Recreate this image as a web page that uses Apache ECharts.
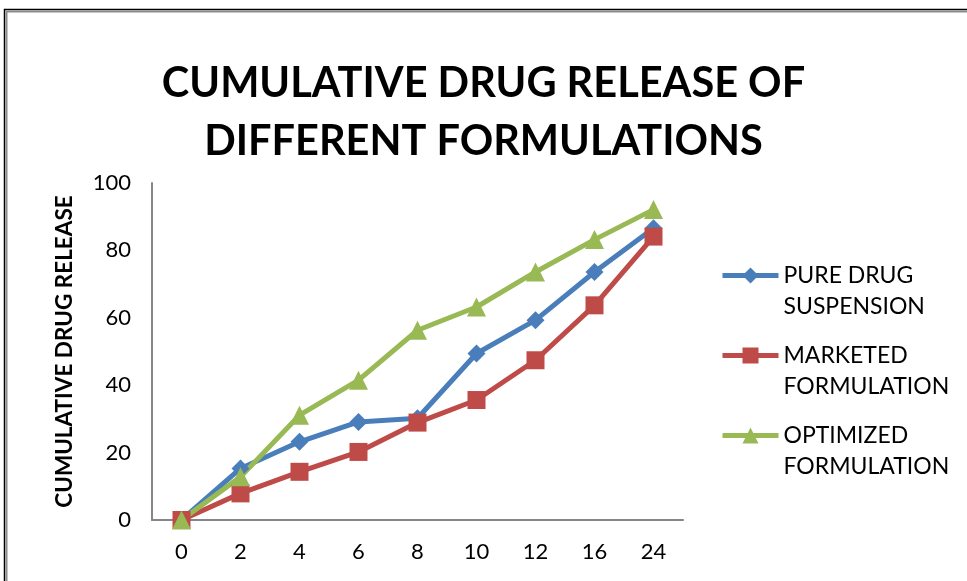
<!DOCTYPE html>
<html><head><meta charset="utf-8">
<script src="https://cdn.jsdelivr.net/npm/echarts@6/dist/echarts.min.js"></script>
<style>html,body{margin:0;padding:0;background:#fff}#c{width:967px;height:581px}</style>
</head><body><div id="c"></div>
<script>
var categories = ['0','2','4','6','8','10','12','16','24'];
var pureDrug = [0, 15.3, 23.2, 29.1, 30.2, 49.4, 59.3, 73.6, 86.6];
var marketed = [0, 7.9, 14.3, 20.2, 28.9, 35.6, 47.4, 63.7, 84.1];
var optimized = [0, 12.8, 31.1, 41.5, 56.3, 63.2, 73.6, 83.2, 92.1];
var seriesNames = ['PURE DRUG SUSPENSION', 'MARKETED FORMULATION', 'OPTIMIZED FORMULATION'];
var legendLabels = ['PURE DRUG\nSUSPENSION', 'MARKETED\nFORMULATION', 'OPTIMIZED\nFORMULATION'];
var titleText = 'CUMULATIVE DRUG RELEASE OF\nDIFFERENT FORMULATIONS';
var yAxisName = 'CUMULATIVE DRUG RELEASE';

var font = 'Lato';
var chart = echarts.init(document.getElementById('c'), null, {renderer: 'canvas'});
function ser(name, data, color, symbol, size) {
  return {
    name: name, type: 'line', data: data, symbol: symbol, symbolSize: size,
    lineStyle: {color: color, width: 5}, itemStyle: {color: color},
    emphasis: {disabled: true}, animation: false
  };
}
chart.setOption({
  animation: false,
  textStyle: {fontFamily: font},
  title: {
    text: titleText, left: 'center', top: 50,
    textStyle: {fontFamily: font, fontWeight: 'bold', fontSize: 41.5, lineHeight: 58, color: '#000'}
  },
  graphic: [
    {type: 'rect', shape: {x: 4.5, y: 9.5, width: 1000, height: 600}, style: {fill: 'none', stroke: '#000', lineWidth: 1.5}, silent: true},
    {type: 'rect', shape: {x: 6.5, y: 11.5, width: 1000, height: 600}, style: {fill: 'none', stroke: '#8c8c8c', lineWidth: 2}, silent: true}
  ],
  legend: {
    orient: 'vertical', left: 715, top: 224, itemWidth: 56, itemHeight: 20, itemGap: -13,
    data: seriesNames,
    formatter: function (n) { return '\n' + legendLabels[seriesNames.indexOf(n)]; },
    textStyle: {fontFamily: font, fontSize: 23, lineHeight: 31, color: '#000'},
    lineStyle: {width: 5},
    selectedMode: false
  },
  grid: {left: 152, right: 284, top: 183, bottom: 61},
  xAxis: {
    type: 'category', data: categories, boundaryGap: true,
    axisLine: {lineStyle: {color: '#868686', width: 2}},
    axisTick: {show: false},
    axisLabel: {color: '#000', fontSize: 22, margin: 21, fontFamily: font}
  },
  yAxis: {
    type: 'value', min: 0, max: 100, interval: 20,
    name: yAxisName, nameLocation: 'middle', nameGap: 76, nameRotate: 90,
    nameTextStyle: {fontFamily: font, fontWeight: 'bold', fontSize: 22.5, color: '#000'},
    axisLine: {show: true, lineStyle: {color: '#868686', width: 2}},
    axisTick: {show: false},
    splitLine: {show: false},
    axisLabel: {color: '#000', fontSize: 22, margin: 21, fontFamily: font}
  },
  series: [
    ser(seriesNames[0], pureDrug, '#4A7EBB', 'diamond', 18),
    ser(seriesNames[1], marketed, '#BE4B48', 'rect', 18),
    ser(seriesNames[2], optimized, '#98B954', 'triangle', 19)
  ]
});
</script></body></html>
